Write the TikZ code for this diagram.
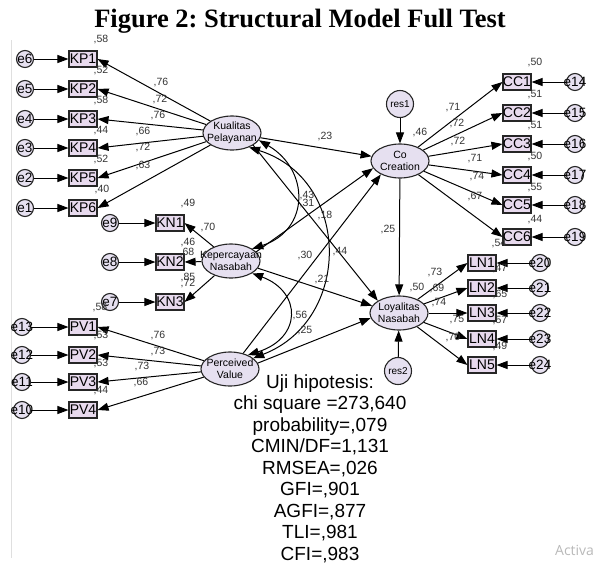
\documentclass[tikz,border=0pt]{standalone}
\usepackage{fontspec}
\setmainfont{Liberation Serif}
\newfontfamily\arialf{Liberation Sans}
\newfontfamily\segoe{Open Sans}
\usetikzlibrary{arrows.meta,shapes.geometric}
\definecolor{boxfill}{HTML}{E8DAEE}
\definecolor{latfill}{HTML}{E6E0F0}
\definecolor{lblcol}{HTML}{333333}
\frenchspacing
\begin{document}
\begin{tikzpicture}[x=1pt,y=-1pt,
  obs/.style={draw=black!85,line width=1.1pt,fill=boxfill,minimum width=28pt,minimum height=16pt,inner sep=0pt,font=\arialf\fontsize{14}{14}\selectfont},
  err/.style={circle,draw=black!85,line width=1.1pt,fill=latfill,minimum size=17pt,inner sep=0pt,font=\arialf\fontsize{13.5}{13.5}\selectfont},
  lat/.style={ellipse,draw=black!85,line width=1.1pt,fill=latfill,minimum width=58pt,minimum height=34pt,inner sep=0pt,align=center,font=\arialf\fontsize{10.5}{12}\selectfont},
  resid/.style={circle,draw=black!85,line width=1.1pt,fill=latfill,minimum size=27pt,inner sep=0pt,font=\arialf\fontsize{10}{10}\selectfont},
  lbl/.style={font=\arialf\fontsize{10.5}{10.5}\selectfont,text=lblcol,inner sep=0pt},
  arr/.style={-{Triangle[length=11pt,width=8pt]},line width=1pt,black},
  cov/.style={{Triangle[length=11pt,width=8pt]}-{Triangle[length=11pt,width=8pt]},line width=1pt,black},
  stat/.style={font=\arialf\fontsize{19}{19}\selectfont,anchor=base,inner sep=0pt}]
\useasboundingbox (0,0) rectangle (598,563);
\fill[white] (0,0) rectangle (598,563);

% page edge line and watermark
\coordinate (lt) at (11,40);
\coordinate (lb) at (11,558);
\draw[gray!25,line width=0.8pt] (lt) -- (lb);
\node[font=\segoe\fontsize{14}{14}\selectfont,text=gray!55,anchor=base west,inner sep=0pt] (act) at (555,555) {Activa};

% title
\node[font=\bfseries\fontsize{26.5}{26.5}\selectfont,anchor=base,inner sep=0pt] (title) at (300,27) {Figure 2: Structural Model Full Test};

% latent variables
\node[lat] (KPl) at (232,133) {\makebox[0pt]{Kualitas}\\\makebox[0pt]{Pelayanan}};
\node[lat] (KNl) at (231,261) {\makebox[0pt]{Kepercayaan}\\\makebox[0pt]{Nasabah}};
\node[lat] (PVl) at (230,369) {\makebox[0pt]{Perceived}\\\makebox[0pt]{Value}};
\node[lat] (CCl) at (400,161) {\makebox[0pt]{Co}\\\makebox[0pt]{Creation}};
\node[lat] (LNl) at (399,313) {\makebox[0pt]{Loyalitas}\\\makebox[0pt]{Nasabah}};
\node[resid] (res1) at (400,104) {res1};
\node[resid] (res2) at (398,371) {res2};

% indicators
\foreach \n/\y/\e in {1/59/6,2/89/5,3/119/4,4/148/3,5/178/2,6/208/1}{
  \node[obs] (KP\n) at (83,\y) {KP\n};
  \node[err] (e\e) at (25,\y) {\makebox[0pt]{e\e}};
  \draw[arr] (e\e) -- (KP\n);
  \draw[arr] (KPl) -- (KP\n.east);
}
\foreach \n/\y/\e in {1/223/9,2/262/8,3/302/7}{
  \node[obs] (KN\n) at (170,\y) {KN\n};
  \node[err] (e\e) at (110,\y) {\makebox[0pt]{e\e}};
  \draw[arr] (e\e) -- (KN\n);
  \draw[arr] (KNl) -- (KN\n.east);
}
\foreach \n/\y/\e in {1/327/13,2/355/12,3/382/11,4/410/10}{
  \node[obs] (PV\n) at (83,\y) {PV\n};
  \node[err] (e\e) at (22,\y) {\makebox[0pt]{e\e}};
  \draw[arr] (e\e) -- (PV\n);
  \draw[arr] (PVl) -- (PV\n.east);
}
\foreach \n/\y/\e in {1/82/14,2/113/15,3/144/16,4/175/17,5/205/18,6/237/19}{
  \node[obs] (CC\n) at (517,\y) {CC\n};
  \node[err] (e\e) at (575,\y) {\makebox[0pt]{e\e}};
  \draw[arr] (e\e) -- (CC\n);
  \draw[arr] (CCl) -- (CC\n.west);
}
\foreach \n/\y/\e in {1/263/20,2/288/21,3/313/22,4/339/23,5/365/24}{
  \node[obs] (LN\n) at (482,\y) {LN\n};
  \node[err] (e\e) at (540,\y) {\makebox[0pt]{e\e}};
  \draw[arr] (e\e) -- (LN\n);
  \draw[arr] (LNl) -- (LN\n.west);
}

% structural paths
\draw[arr] (res1) -- (CCl);
\draw[arr] (res2) -- (LNl);
\draw[arr] (CCl) -- (LNl);
\draw[arr] (KPl) -- (CCl);
\draw[arr] (KPl.-30) -- (LNl.150);
\draw[arr] (KNl.20) -- (CCl.195);
\draw[arr] (KNl.-15) -- (LNl.165);
\draw[arr] (PVl.50) -- (CCl.215);
\draw[arr] (PVl.12) -- (LNl.190);

% covariances
\draw[cov] (KPl.-15) .. controls (310,170) and (310,230) .. (KNl.30);
\draw[cov] (KPl.-40) .. controls (352,180) and (352,320) .. (PVl.25);
\draw[cov] (KNl.-30) .. controls (302,292) and (302,338) .. (PVl.38);

% labels: KP
\node[lbl] (r1) at (101,40) {,58};
\node[lbl] (r2) at (101,71) {,52};
\node[lbl] (r3) at (101,101) {,58};
\node[lbl] (r4) at (101,131) {,44};
\node[lbl] (r5) at (101,160) {,52};
\node[lbl] (r6) at (102,190) {,40};
\node[lbl] (l1) at (161,83) {,76};
\node[lbl] (l2) at (160,100) {,72};
\node[lbl] (l3) at (158,116) {,76};
\node[lbl] (l4) at (143,132) {,66};
\node[lbl] (l5) at (143,148) {,72};
\node[lbl] (l6) at (143,166) {,63};
% KN
\node[lbl] (r9) at (188,204) {,49};
\node[lbl] (l9) at (208,228) {,70};
\node[lbl] (r8) at (188,243) {,46};
\node[lbl] (l8) at (187,253) {,68};
\node[lbl] (l7) at (188,278) {,85};
\node[lbl] (r7) at (188,284) {,72};
% PV
\node[lbl] (r13) at (100,308) {,58};
\node[lbl] (r12) at (101,336) {,53};
\node[lbl] (r11) at (101,364) {,53};
\node[lbl] (r10) at (101,391) {,44};
\node[lbl] (l13) at (158,336) {,76};
\node[lbl] (l12) at (158,352) {,73};
\node[lbl] (l11) at (142,367) {,73};
\node[lbl] (l10) at (141,383) {,66};
% CC
\node[lbl] (r14) at (535,63) {,50};
\node[lbl] (r15) at (535,95) {,51};
\node[lbl] (r16) at (535,126) {,51};
\node[lbl] (r17) at (535,157) {,50};
\node[lbl] (r18) at (535,188) {,55};
\node[lbl] (r19) at (535,220) {,44};
\node[lbl] (l14) at (453,108) {,71};
\node[lbl] (l15) at (457,124) {,72};
\node[lbl] (l16) at (458,142) {,72};
\node[lbl] (l17) at (475,159) {,71};
\node[lbl] (l18) at (477,177) {,74};
\node[lbl] (l19) at (475,197) {,67};
\node[lbl] (rcc) at (420,133) {,46};
% LN
\node[lbl] (r20) at (499,244) {,54};
\node[lbl] (r21) at (500,269) {,47};
\node[lbl] (r22) at (500,295) {,65};
\node[lbl] (r23) at (500,321) {,57};
\node[lbl] (r24) at (500,347) {,49};
\node[lbl] (l20) at (435,273) {,73};
\node[lbl] (l21) at (437,289) {,69};
\node[lbl] (l22) at (439,303) {,74};
\node[lbl] (l23) at (457,320) {,75};
\node[lbl] (l24) at (453,338) {,70};
\node[lbl] (rln) at (417,288) {,50};
% structural
\node[lbl] (s23) at (325,137) {,23};
\node[lbl] (s25a) at (388,230) {,25};
\node[lbl] (s43) at (307,196) {,43};
\node[lbl] (s31) at (307,204) {,31};
\node[lbl] (s18) at (325,216) {,18};
\node[lbl] (s30) at (305,256) {,30};
\node[lbl] (s44) at (340,252) {,44};
\node[lbl] (s21) at (322,280) {,21};
\node[lbl] (s56) at (300,316) {,56};
\node[lbl] (s25b) at (305,331) {,25};

% fit statistics
\node[stat] (f1) at (320,388) {Uji hipotesis:};
\node[stat] (f2) at (320,409.5) {chi square =273,640};
\node[stat] (f3) at (320,431) {probability=,079};
\node[stat] (f4) at (320,452.5) {CMIN/DF=1,131};
\node[stat] (f5) at (320,474) {RMSEA=,026};
\node[stat] (f6) at (320,495.5) {GFI=,901};
\node[stat] (f7) at (320,517) {AGFI=,877};
\node[stat] (f8) at (320,538.5) {TLI=,981};
\node[stat] (f9) at (320,560) {CFI=,983};
\end{tikzpicture}
\end{document}
